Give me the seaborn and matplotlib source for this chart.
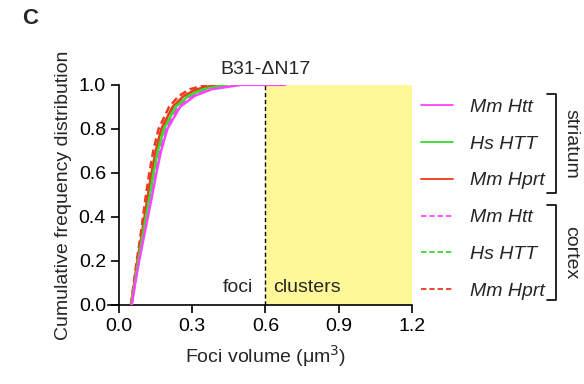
import numpy as np
import pandas as pd
import seaborn as sns
import matplotlib.pyplot as plt

# -----------------------------------------------------
# DATA
# -----------------------------------------------------
cum_freq = [0.0, 0.1, 0.2, 0.3, 0.4, 0.5, 0.6, 0.7, 0.8, 0.9, 0.95, 0.98, 1.0]

str_mm_htt = [0.052, 0.066, 0.082, 0.10, 0.118, 0.136, 0.153, 0.172, 0.198, 0.25, 0.31, 0.38, 0.50]
str_hs_htt = [0.05, 0.064, 0.078, 0.094, 0.11, 0.126, 0.141, 0.159, 0.184, 0.232, 0.284, 0.344, 0.44]
str_mm_hprt = [0.049, 0.062, 0.075, 0.090, 0.104, 0.118, 0.133, 0.15, 0.173, 0.219, 0.265, 0.317, 0.40]
ctx_mm_htt = [0.051, 0.065, 0.08, 0.097, 0.114, 0.131, 0.147, 0.166, 0.191, 0.241, 0.297, 0.362, 0.47]
ctx_hs_htt = [0.05, 0.063, 0.077, 0.092, 0.107, 0.122, 0.137, 0.154, 0.178, 0.225, 0.274, 0.33, 0.42]
ctx_mm_hprt = [0.048, 0.06, 0.072, 0.086, 0.098, 0.11, 0.124, 0.14, 0.162, 0.205, 0.245, 0.29, 0.36]

# magenta striatum curve runs flat at 1.0 out to ~0.68
str_mm_htt_tail_x = [0.68]
str_mm_htt_tail_y = [1.0]

labels = ["Mm Htt", "Hs HTT", "Mm Hprt", "Mm Htt", "Hs HTT", "Mm Hprt"]
colors = ["#ff44ff", "#33dd33", "#ee3a1c", "#ff44ff", "#33dd33", "#ee3a1c"]
styles = ["-", "-", "-", "--", "--", "--"]

xticks = [0.0, 0.3, 0.6, 0.9, 1.2]
yticks = [0.0, 0.2, 0.4, 0.6, 0.8, 1.0]
threshold = 0.6

# -----------------------------------------------------
# PLOT
# -----------------------------------------------------
sns.set_style("ticks")
plt.rcParams["font.family"] = ["Liberation Sans", "DejaVu Sans"]
FS = 14

fig = plt.figure(figsize=(5.84, 3.84), dpi=100)
ax = fig.add_axes([0.204, 0.206, 0.501, 0.573])

ax.axvspan(threshold, 1.2, ymin=0, ymax=1, color="#fff899", zorder=0, lw=0)
ax.axvline(threshold, color="black", ls=(0, (3, 2)), lw=1.0, zorder=1)

series = [str_mm_htt + str_mm_htt_tail_x, str_hs_htt, str_mm_hprt,
          ctx_mm_htt, ctx_hs_htt, ctx_mm_hprt]
handles = []
for i, xs in enumerate(series):
    ys = cum_freq + (str_mm_htt_tail_y if i == 0 else [])
    sns.lineplot(x=xs, y=ys, color=colors[i], lw=1.8, sort=False,
                 estimator=None, ax=ax, zorder=3 - i * 0.1)
    line = ax.lines[-1]
    if styles[i] == "--":
        line.set_linestyle((0, (3, 1.6)))
    handles.append(line)

ax.set_xlim(0, 1.2)
ax.set_ylim(0, 1.0)
ax.set_xticks(xticks)
ax.set_xticklabels(["0.0", "0.3", "0.6", "0.9", "1.2"])
ax.set_yticks(yticks)
ax.set_yticklabels(["0.0", "0.2", "0.4", "0.6", "0.8", "1.0"])
ax.tick_params(labelsize=FS, length=6, width=1.2, colors="black")
for s in ["left", "bottom"]:
    ax.spines[s].set_linewidth(1.2)
    ax.spines[s].set_color("black")
sns.despine(ax=ax)
ax.spines["bottom"].set_bounds(-0.045, 1.2)

ax.set_xlabel("Foci volume (\u03bcm$^3$)", fontsize=FS, labelpad=6)
ax.set_ylabel("Cumulative frequency distribution", fontsize=FS, labelpad=5)
ax.set_title("B31-\u0394N17", fontsize=FS, pad=8)

ax.text(0.548, 0.04, "foci", ha="right", va="bottom", fontsize=FS)
ax.text(0.632, 0.04, "clusters", ha="left", va="bottom", fontsize=FS)

leg = ax.legend(handles, labels, loc="upper left", bbox_to_anchor=(1.005, 0.975),
                frameon=False, fontsize=FS, handlelength=1.65, labelspacing=0.99,
                handletextpad=0.85, borderaxespad=0)
for t in leg.get_texts():
    t.set_style("italic")
for h in leg.get_lines():
    h.set_linewidth(1.3)

# brackets for the tissue groups (figure coords)
def bracket(y_top, y_bot, text):
    x0, x1 = 547 / 584, 556 / 584
    t, b = 1 - y_top / 384, 1 - y_bot / 384
    fig.add_artist(plt.Line2D([x0, x1, x1, x0], [t, t, b, b], color="black",
                              lw=1.2, transform=fig.transFigure))
    fig.text(571 / 584, (t + b) / 2, text, rotation=-90, ha="center",
             va="center", fontsize=FS)

bracket(94, 193, "striatum")
bracket(205, 300, "cortex")

fig.text(22 / 584, 1 - 18 / 384, "C", fontsize=16, fontweight="bold",
         ha="left", va="center")

plt.savefig("out.png", dpi=100)
